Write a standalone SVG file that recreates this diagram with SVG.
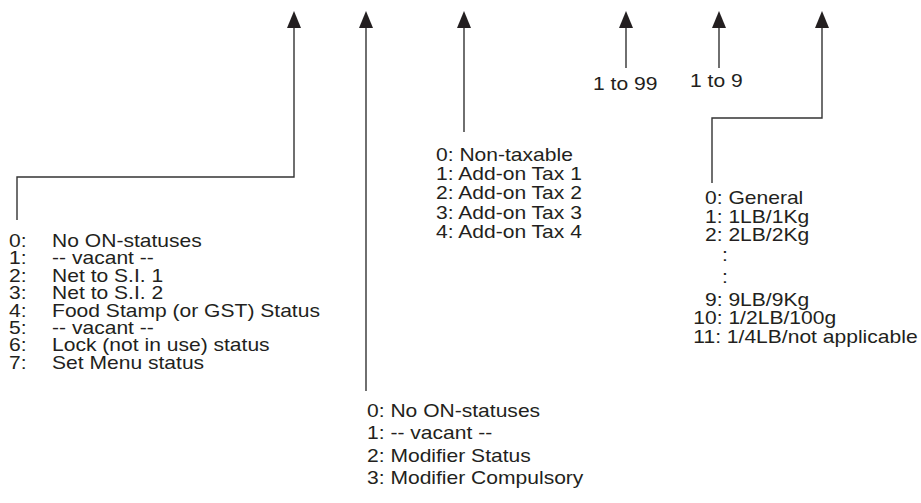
<svg xmlns="http://www.w3.org/2000/svg" width="921" height="503" viewBox="0 0 921 503">
<style>
text{font-family:"Liberation Sans",Arial,sans-serif;font-size:18px;fill:#231f20}
.ln{fill:none;stroke:#333;stroke-width:1.4}
.ah{fill:#231f20}
</style>
<defs>
<polygon id="head" class="ah" points="0,0 -7,17 7,17"/>
</defs>
<g id="connectors">
<polyline class="ln" points="17,220 17,177 294,177 294,27"/>
<line class="ln" x1="366" y1="391" x2="366" y2="27"/>
<line class="ln" x1="464" y1="132" x2="464" y2="27"/>
<line class="ln" x1="626" y1="68" x2="626" y2="27"/>
<line class="ln" x1="719" y1="68" x2="719" y2="27"/>
<polyline class="ln" points="712,183 712,118 822,118 822,27"/>
<use href="#head" x="294" y="11"/>
<use href="#head" x="366" y="11"/>
<use href="#head" x="464" y="11"/>
<use href="#head" x="626" y="11"/>
<use href="#head" x="719" y="11"/>
<use href="#head" x="822" y="11"/>
</g>
<g id="range99" transform="translate(593,90) scale(1.17,1)"><text x="0" y="0">1 to 99</text></g>
<g id="range9" transform="translate(690,87) scale(1.17,1)"><text x="0" y="0">1 to 9</text></g>
<g id="statusList" transform="translate(9,247) scale(1.17,1)">
<text x="0" y="0">0:</text><text x="36.8" y="0">No ON-statuses</text>
<text x="0" y="17.4">1:</text><text x="36.8" y="17.4">-- vacant --</text>
<text x="0" y="34.8">2:</text><text x="36.8" y="34.8">Net to S.I. 1</text>
<text x="0" y="52.2">3:</text><text x="36.8" y="52.2">Net to S.I. 2</text>
<text x="0" y="69.6">4:</text><text x="36.8" y="69.6">Food Stamp (or GST) Status</text>
<text x="0" y="87">5:</text><text x="36.8" y="87">-- vacant --</text>
<text x="0" y="104.4">6:</text><text x="36.8" y="104.4">Lock (not in use) status</text>
<text x="0" y="121.8">7:</text><text x="36.8" y="121.8">Set Menu status</text>
</g>
<g id="modifierList" transform="translate(367,417) scale(1.17,1)">
<text x="0" y="0">0: No ON-statuses</text>
<text x="0" y="22.5">1: -- vacant --</text>
<text x="0" y="45">2: Modifier Status</text>
<text x="0" y="67.5">3: Modifier Compulsory</text>
</g>
<g id="taxList" transform="translate(436,161) scale(1.17,1)">
<text x="0" y="0">0: Non-taxable</text>
<text x="0" y="19.2">1: Add-on Tax 1</text>
<text x="0" y="38.4">2: Add-on Tax 2</text>
<text x="0" y="57.6">3: Add-on Tax 3</text>
<text x="0" y="76.8">4: Add-on Tax 4</text>
</g>
<g id="unitList" transform="translate(705,204) scale(1.17,1)">
<text x="0" y="0">0: General</text>
<text x="0" y="19">1: 1LB/1Kg</text>
<text x="0" y="37">2: 2LB/2Kg</text>
<text x="14.5" y="57">:</text>
<text x="14.5" y="79">:</text>
<text x="0" y="102">9: 9LB/9Kg</text>
<text x="-10" y="120.5">10: 1/2LB/100g</text>
<text x="-10" y="139">11: 1/4LB/not applicable</text>
</g>
</svg>
